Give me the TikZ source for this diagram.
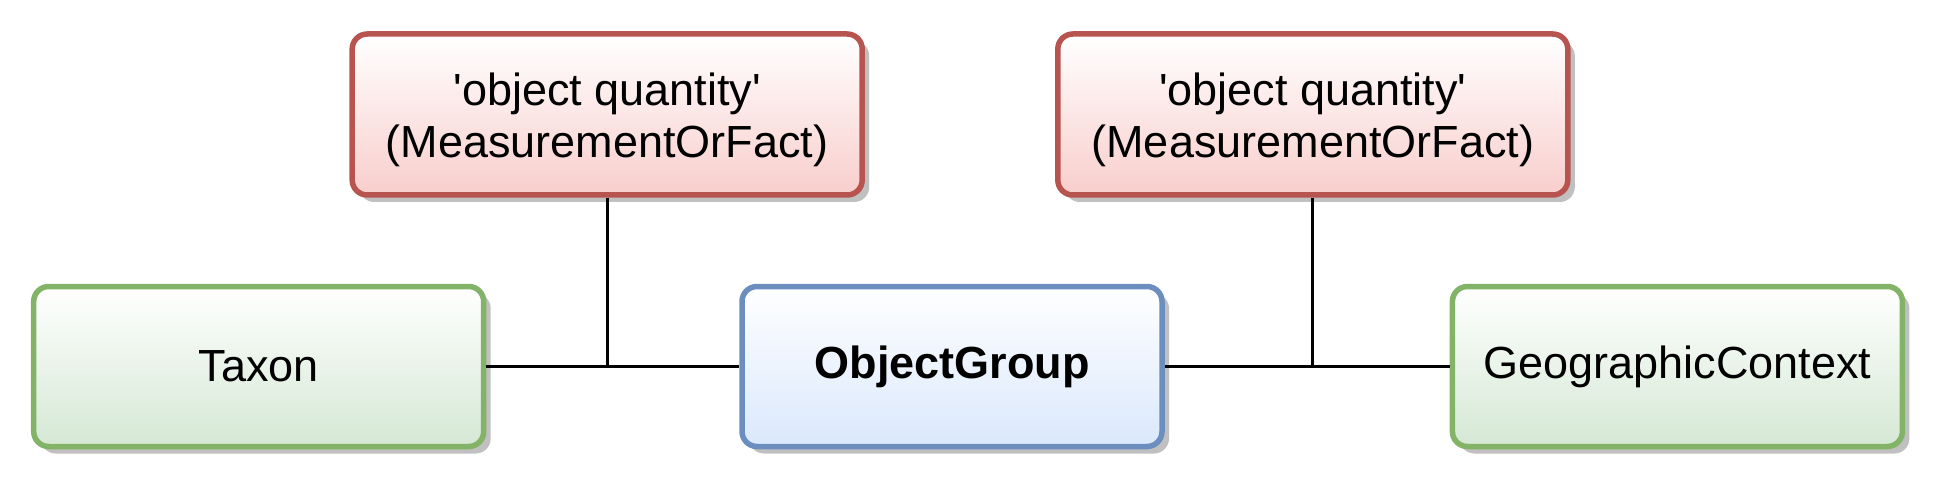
\documentclass[tikz,border=0pt]{standalone}
\usepackage{fontspec}
\setmainfont{Liberation Sans}
\usetikzlibrary{shadows}
\definecolor{redS}{HTML}{B85450}
\definecolor{redF}{HTML}{F8CECC}
\definecolor{greenS}{HTML}{82B366}
\definecolor{greenF}{HTML}{D5E8D4}
\definecolor{blueS}{HTML}{6C8EBF}
\definecolor{blueF}{HTML}{DAE8FC}
\definecolor{shadowC}{HTML}{C0C0C0}
\newcommand{\sq}{\textquotesingle}
\tikzset{
  box/.style={draw, line width=5.5pt, rounded corners=15pt, inner sep=0pt,
    align=center, font=\fontsize{45}{52}\selectfont,
    drop shadow={shadow xshift=7pt, shadow yshift=-7pt, fill=shadowC, opacity=1}},
  redbox/.style={box, draw=redS, top color=white, bottom color=redF,
    minimum width=510pt, minimum height=161pt},
  greenbox/.style={box, draw=greenS, top color=white, bottom color=greenF,
    minimum width=450pt, minimum height=160pt},
  bluebox/.style={box, draw=blueS, top color=white, bottom color=blueF,
    minimum width=420pt, minimum height=160pt},
  conn/.style={draw=black, line width=3pt}
}
\begin{document}
\begin{tikzpicture}[x=1pt,y=-1pt]
\useasboundingbox (0,0) rectangle (1941,489);
\node[redbox] (r1) at (607.2,114.5) {};
\node[redbox] (r2) at (1312.8,114.5) {};
\node[align=center, font=\fontsize{45}{52}\selectfont, inner sep=0pt] (t1) at (607.2,120) {\sq object quantity\sq\\(MeasurementOrFact)};
\node[align=center, font=\fontsize{45}{52}\selectfont, inner sep=0pt] (t2) at (1312.8,120) {\sq object quantity\sq\\(MeasurementOrFact)};
\node[greenbox] (tax) at (258.7,366.5) {Taxon};
\node[bluebox] (og) at (952,366.5) {\bfseries ObjectGroup};
\node[greenbox] (geo) at (1677.4,366.5) {GeographicContext};
\coordinate (j1) at (r1.south |- og.west);
\coordinate (j2) at (r2.south |- og.east);
\draw[conn] (tax.east) -- (og.west);
\draw[conn] (og.east) -- (geo.west);
\draw[conn] (r1.south) -- (j1);
\draw[conn] (r2.south) -- (j2);
\end{tikzpicture}
\end{document}
